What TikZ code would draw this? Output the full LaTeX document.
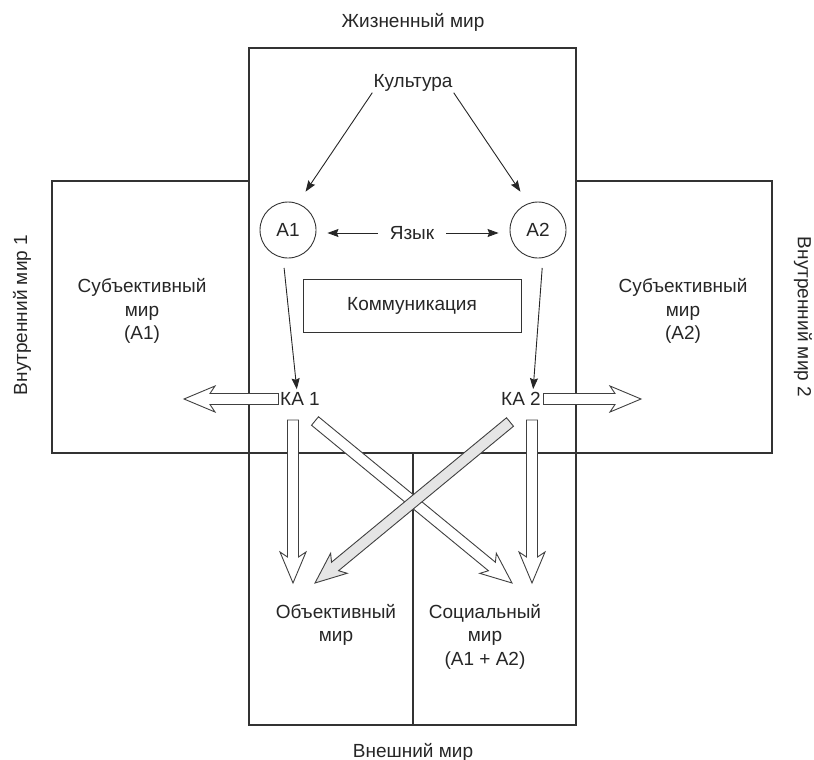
\documentclass[tikz,border=0pt]{standalone}
\usepackage{fontspec}
\setmainfont{Liberation Sans}
\usetikzlibrary{calc,arrows.meta}

% hollow block arrow from #2 to the tip #3
\newcommand{\blockarrow}[3][white]{%
  \draw[blockline, fill=#1]
    ($(#2)!5.5pt!90:(#3)$)
    -- ($(#3)!26pt!(#2)!5.5pt!-90:(#2)$)
    -- ($(#3)!31pt!(#2)!13pt!-90:(#2)$)
    -- (#3)
    -- ($(#3)!31pt!(#2)!13pt!90:(#2)$)
    -- ($(#3)!26pt!(#2)!5.5pt!90:(#2)$)
    -- ($(#2)!5.5pt!-90:(#3)$) -- cycle;}

\tikzset{
  lbl/.style={font=\fontsize{19}{23.5}\selectfont, inner sep=1pt, align=center, text=black!85},
  frame/.style={draw=black!80, line width=1.2pt},
  agent/.style={lbl, draw=black!80, line width=0.9pt, circle, minimum size=56pt, inner sep=0pt},
  arr/.style={draw=black!85, line width=0.9pt, -{Stealth[length=11pt,width=8pt,inset=1.5pt]}},
  blockline/.style={draw=black!75, line width=0.9pt, line join=miter}
}

\begin{document}
\begin{tikzpicture}[x=1pt,y=-1pt]
  \useasboundingbox (0,0) rectangle (814,760);

  % --------------------
  % Frames
  % --------------------
  \draw[frame] (249,48) rectangle (576,725);
  \draw[frame] (52,181) rectangle (249,453);
  \draw[frame] (576,181) rectangle (772,453);
  \draw[frame] (249,453) -- (576,453);
  \draw[frame] (413,453) -- (413,725);

  % Frame titles
  \node[lbl] (life) at (413,22) {Жизненный мир};
  \node[lbl] (outer) at (413,752) {Внешний мир};
  \node[lbl, rotate=90] (inner1) at (22,315) {Внутренний мир 1};
  \node[lbl, rotate=-90] (inner2) at (803,317) {Внутренний мир 2};

  % --------------------
  % Inner parts
  % --------------------
  \node[lbl] (kult) at (413,83) {Культура};
  \node[agent] (a1) at (288,230) {A1};
  \node[agent] (a2) at (538,230) {A2};
  \node[lbl, inner xsep=12pt] (yaz) at (412,233) {Язык};
  \node[lbl, draw=black!80, line width=1pt, minimum width=218pt, minimum height=53pt] (komm) at (412,305.5) {Коммуникация};
  \node[lbl, inner xsep=1.5pt] (ka1) at (300,399) {КА 1};
  \node[lbl, inner xsep=2.5pt] (ka2) at (521,399) {КА 2};

  \node[lbl] (subj1) at (142,311) {Субъективный\\мир\\(A1)};
  \node[lbl] (subj2) at (683,311) {Субъективный\\мир\\(A2)};
  \node[lbl, anchor=north] (obj) at (336,603) {Объективный\\мир};
  \node[lbl, anchor=north] (soc) at (485,603) {Социальный\\мир\\(A1 + A2)};

  % thin arrows
  \draw[arr, shorten >=14pt] (kult.south west) -- (a1.70);
  \draw[arr, shorten >=14pt] (kult.south east) -- (a2.110);
  \draw[arr, shorten >=11pt] (yaz.west) -- (yaz.west -| a1.east);
  \draw[arr, shorten >=11pt] (yaz.east) -- (yaz.east -| a2.west);
  \draw[arr, shorten <=10pt, shorten >=2pt] (a1.260) -- ($(ka1.north)+(-3,0)$);
  \draw[arr, shorten <=10pt, shorten >=2pt] (a2.280) -- ($(ka2.north)+(12,0)$);

  % --------------------
  % Block arrows
  % --------------------
  \coordinate (in1) at (184,399);
  \coordinate (in2) at (641,399);
  \coordinate (d1s) at (293,420);
  \coordinate (d1e) at (293,583);
  \coordinate (d2s) at (532,420);
  \coordinate (d2e) at (532,583);
  \coordinate (x1s) at (315,421);
  \coordinate (x1e) at (512,583);
  \coordinate (x2s) at (510,422);
  \coordinate (x2e) at (315,583);

  \blockarrow{ka1.west}{in1}
  \blockarrow{ka2.east}{in2}
  \blockarrow{d1s}{d1e}
  \blockarrow{d2s}{d2e}
  \blockarrow{x1s}{x1e}
  \blockarrow[black!10]{x2s}{x2e}

\end{tikzpicture}
\end{document}
